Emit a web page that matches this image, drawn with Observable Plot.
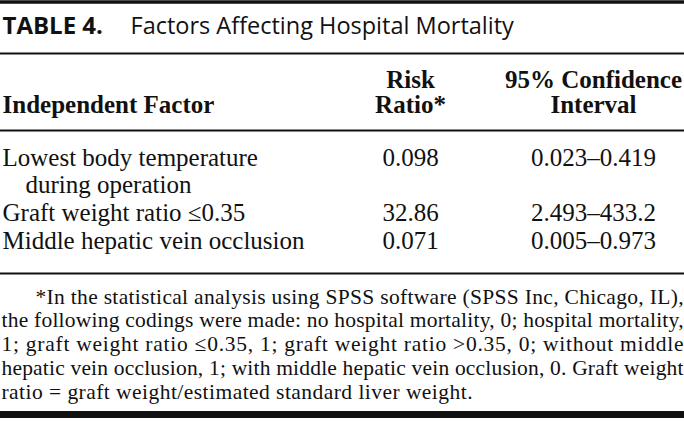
<!DOCTYPE html>
<html><head><meta charset="utf-8">
<script src="https://cdn.jsdelivr.net/npm/d3@7"></script>
<script src="https://cdn.jsdelivr.net/npm/@observablehq/plot@0.6"></script>
<style>html,body{margin:0;padding:0;background:#fff}</style>
</head><body><div id="chart"></div>
<script>
// ---- data ----
const tableLabel = "TABLE 4.";
const tableTitle = "Factors Affecting Hospital Mortality";
const headerTop = ["", "Risk", "95% Confidence"];
const headerBottom = ["Independent Factor", "Ratio*", "Interval"];
const factors = ["Lowest body temperature", "Graft weight ratio \u22640.35", "Middle hepatic vein occlusion"];
const factorContinuation = ["during operation", "", ""];
const riskRatios = ["0.098", "32.86", "0.071"];
const ciLower = ["0.023", "2.493", "0.005"];
const ciUpper = ["0.419", "433.2", "0.973"];
const footnoteLines = [
  "*In the statistical analysis using SPSS software (SPSS Inc, Chicago, IL),",
  "the following codings were made: no hospital mortality, 0; hospital mortality,",
  "1; graft weight ratio \u22640.35, 1; graft weight ratio >0.35, 0; without middle",
  "hepatic vein occlusion, 1; with middle hepatic vein occlusion, 0. Graft weight",
  "ratio = graft weight/estimated standard liver weight."
];

// ---- layout ----
const W = 684, H = 421;
const colX = [2, 410, 593];
const serif = "'Liberation Serif', 'Times New Roman', serif";
const sans = "'Open Sans', 'Noto Sans', sans-serif";
const ink = "#111";
const bodyTop = 165, bodyStep = 27.7;
const footTop = 303, footStep = 23.8, footIndent = 35;
const footRight = W - 1, lastLineRight = 472;

// derived tables
const bodyRows = [];
let slot = 0;
factors.forEach((f, i) => {
  bodyRows.push({slot, factor: f, indent: false, rr: riskRatios[i], ci: `${ciLower[i]}\u2013${ciUpper[i]}`});
  slot++;
  if (factorContinuation[i]) { bodyRows.push({slot, factor: factorContinuation[i], indent: true, rr: "", ci: ""}); slot++; }
});
const headerCells = [];
headerTop.forEach((t, c) => headerCells.push({col: c, line: 0, text: t}));
headerBottom.forEach((t, c) => headerCells.push({col: c, line: 1, text: t}));
const footRows = footnoteLines.map((t, i) => ({i, text: t}));
const rules = [{y: 1.5, w: 3.5}, {y: 53, w: 2}, {y: 130, w: 2}, {y: 273, w: 2}, {y: 414, w: 7}];

const common = {lineAnchor: "bottom", fill: ink};
const headY = d => 87 + d.line * 25;
const bodyY = d => bodyTop + d.slot * bodyStep;
const footX = d => d.i === 0 ? footIndent : 1;

const chart = Plot.plot({
  width: W, height: H,
  margin: 0,
  x: {domain: [0, W], range: [0, W], axis: null},
  y: {domain: [0, H], range: [0, H], axis: null},
  style: {background: "#fff", color: ink},
  marks: [
    Plot.ruleY(rules, {y: "y", strokeWidth: "w", stroke: ink}),
    Plot.text([tableLabel], {...common, x: 2, y: 33, text: d => d, textAnchor: "start", fontFamily: sans, fontWeight: "bold", fontSize: 24}),
    Plot.text([tableTitle], {...common, x: 130, y: 33, text: d => d, textAnchor: "start", fontFamily: sans, fontSize: 23.5}),
    Plot.text(headerCells.filter(d => d.col === 0), {...common, x: colX[0], y: headY, text: "text", textAnchor: "start", fontFamily: serif, fontWeight: "bold", fontSize: 25}),
    Plot.text(headerCells.filter(d => d.col > 0), {...common, x: d => colX[d.col], y: headY, text: "text", textAnchor: "middle", fontFamily: serif, fontWeight: "bold", fontSize: 25}),
    Plot.text(bodyRows, {...common, x: d => colX[0] + (d.indent ? 23 : 0), y: bodyY, text: "factor", textAnchor: "start", fontFamily: serif, fontSize: 25}),
    Plot.text(bodyRows, {...common, x: colX[1], y: bodyY, text: "rr", textAnchor: "middle", fontFamily: serif, fontSize: 25}),
    Plot.text(bodyRows, {...common, x: colX[2], y: bodyY, text: "ci", textAnchor: "middle", fontFamily: serif, fontSize: 25}),
    Plot.text(footRows, {...common, x: footX, y: d => footTop + d.i * footStep, text: "text", textAnchor: "start", fontFamily: serif, fontSize: 21.5})
  ]
});
document.getElementById("chart").appendChild(chart);
// justify footnote lines (full width, last line to its reference extent)
chart.querySelectorAll("text").forEach(t => {
  const i = footnoteLines.indexOf(t.textContent);
  if (i < 0) return;
  const x0 = i === 0 ? footIndent : 1;
  const target = (i < footnoteLines.length - 1 ? footRight : lastLineRight) - x0;
  t.setAttribute("textLength", target);
  t.setAttribute("lengthAdjust", "spacing");
});
</script>
</body></html>
